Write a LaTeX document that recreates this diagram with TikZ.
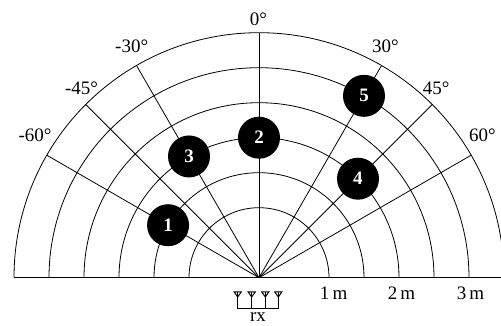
\documentclass[tikz,border=0pt]{standalone}
\usepackage{fontspec}
\setmainfont{Liberation Serif}
\usetikzlibrary{calc}
\begin{document}
\begin{tikzpicture}[x=1pt,y=1pt,
  grid/.style={line width=0.8pt,black},
  lbl/.style={font=\fontsize{19}{21}\selectfont,anchor=base,inner sep=0pt},
  target/.style={circle,fill=black,minimum size=42pt,inner sep=0pt,text=white,font=\fontsize{19}{20}\selectfont\bfseries},
  ant/.style={line width=1pt}]
\useasboundingbox (0,0) rectangle (501,326);
\clip (0,0) rectangle (501,326);
\coordinate (C) at (259,48.3);
% arcs
\foreach \r in {70,105,140,175,210,245}{
  \draw[grid] ($(C)+(\r,0)$) arc[start angle=0,end angle=180,radius=\r];
}
% baseline
\coordinate (BL) at ($(C)+(-245,0)$);
\coordinate (BR) at (501,48.3);
\draw[grid] (BL) -- (BR);
% radial lines
\foreach \t in {-60,-45,-30,0,30,45,60}{
  \coordinate (E\t) at ($(C)+({90-\t}:245)$);
  \draw[grid] (C) -- (E\t);
}
% angle labels
\node[lbl] (l0) at (258.3,300) {0°};
\node[lbl] (lm30) at (131.7,273.3) {-30°};
\node[lbl] (lm45) at (81.5,231.7) {-45°};
\node[lbl] (lm60) at (35,184.3) {-60°};
\node[lbl] (l30) at (385.3,273.3) {30°};
\node[lbl] (l45) at (436.2,231.7) {45°};
\node[lbl] (l60) at (482.3,184.3) {60°};
% distance labels
\node[lbl] (d1) at (333.7,26) {1\,m};
\node[lbl] (d2) at (401.5,26) {2\,m};
\node[lbl] (d3) at (470.5,26) {3\,m};
% targets
\node[target] (t1) at ($(C)+(150:105)$) {1};
\node[target] (t3) at ($(C)+(120:140)$) {3};
\node[target] (t2) at ($(C)+(90:140)$) {2};
\node[target] (t5) at ($(C)+(60:210)$) {5};
\node[target] (t4) at ($(C)+(45:140)$) {4};
% antenna array
\foreach \x [count=\i] in {237.7,251.7,265.3,278.3}{
  \coordinate (a\i) at (\x,34);
  \coordinate (b\i) at (\x,17);
  \draw[ant] ($(a\i)+(-3.5,0)$) -- ($(a\i)+(3.5,0)$) -- ($(a\i)+(0,-5)$) -- cycle;
  \draw[ant] (a\i) -- (b\i);
}
\draw[ant] (b1) -- (b4);
\node[lbl] (rx) at (258,4) {rx};
\end{tikzpicture}
\end{document}
